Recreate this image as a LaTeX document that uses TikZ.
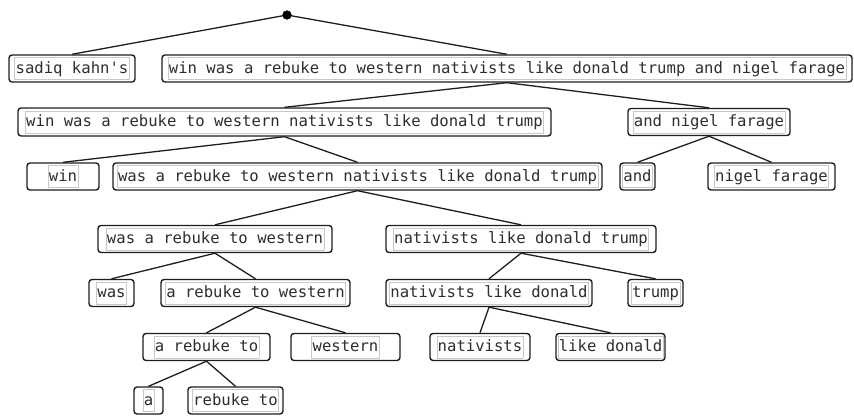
\documentclass[tikz,border=0pt]{standalone}
\usepackage{fontspec}
\usepackage{xcolor}
\newfontfamily\treemono{DejaVu Sans Mono}
\definecolor{boxline}{HTML}{1E1E1E}
\definecolor{textgray}{HTML}{2E2E2E}
\definecolor{framegray}{HTML}{C8C8C8}
\setlength\fboxrule{0.6pt}
\setlength\fboxsep{0.6pt}
% phrase text inside its thin light frame
\newcommand\phr[1]{\fcolorbox{framegray}{white}{\rule[-5.5pt]{0pt}{20.5pt}\color{textgray}#1}}
\tikzset{
  phrase/.style={draw=boxline, line width=1.4pt, rounded corners=3pt, fill=white,
    inner sep=0pt, minimum height=27pt, font=\treemono\fontsize{15.6pt}{18pt}\selectfont},
  branch/.style={draw=boxline, line width=1.3pt},
  rootdot/.style={circle, fill=black, inner sep=0pt, minimum size=9pt}
}
\begin{document}
\begin{tikzpicture}[x=1pt, y=-1pt]
\useasboundingbox (0,0) rectangle (854,415);
% root
\node[rootdot] (r) at (287,15) {};
% level 1
\node[phrase, minimum width=126pt] (s)  at (72,68.5)  {\phr{sadiq kahn's}};
\node[phrase, minimum width=690pt] (w1) at (507,68.5) {\phr{win was a rebuke to western nativists like donald trump and nigel farage}};
% level 2
\node[phrase, minimum width=533pt, minimum height=28pt] (a1) at (284.5,122) {\phr{win was a rebuke to western nativists like donald trump}};
\node[phrase, minimum width=162pt] (a2) at (709,122) {\phr{and nigel farage}};
% level 3
\node[phrase, minimum width=72pt]  (b1) at (63,176.5)    {\phr{win}};
\node[phrase, minimum width=489pt] (b2) at (357.5,176.5) {\phr{was a rebuke to western nativists like donald trump}};
\node[phrase, minimum width=35pt]  (b3) at (637.5,176.5) {\phr{and}};
\node[phrase, minimum width=127pt] (b4) at (771.5,176.5) {\phr{nigel farage}};
% level 4
\node[phrase, minimum width=234pt] (c1) at (215,239) {\phr{was a rebuke to western}};
\node[phrase, minimum width=270pt] (c2) at (521,239) {\phr{nativists like donald trump}};
% level 5
\node[phrase, minimum width=45pt]  (d1) at (111.5,293) {\phr{was}};
\node[phrase, minimum width=189pt] (d2) at (255.5,293) {\phr{a rebuke to western}};
\node[phrase, minimum width=206pt] (d3) at (489,293)   {\phr{nativists like donald}};
\node[phrase, minimum width=55pt]  (d4) at (655.5,293) {\phr{trump}};
% level 6
\node[phrase, minimum width=127pt] (e1) at (206.5,347) {\phr{a rebuke to}};
\node[phrase, minimum width=109pt] (e2) at (345.5,347) {\phr{western}};
\node[phrase, minimum width=100pt] (e3) at (480,347)   {\phr{nativists}};
\node[phrase, minimum width=109pt] (e4) at (610.5,347) {\phr{like donald}};
% level 7
\node[phrase, minimum width=29pt] (f1) at (148.5,400.5) {\phr{a}};
\node[phrase, minimum width=95pt] (f2) at (235.5,400.5) {\phr{rebuke to}};
% branches, parent bottom to child top
\draw[branch] (r.center) -- (s.north);
\draw[branch] (r.center) -- (w1.north);
\draw[branch] (w1.south) -- (a1.north);
\draw[branch] (w1.south) -- (a2.north);
\draw[branch] (a1.south) -- (b1.north);
\draw[branch] (a1.south) -- (b2.north);
\draw[branch] (a2.south) -- (b3.north);
\draw[branch] (a2.south) -- (b4.north);
\draw[branch] (b2.south) -- (c1.north);
\draw[branch] (b2.south) -- (c2.north);
\draw[branch] (c1.south) -- (d1.north);
\draw[branch] (c1.south) -- (d2.north);
\draw[branch] (d2.south) -- (e1.north);
\draw[branch] (d2.south) -- (e2.north);
\draw[branch] (e1.south) -- (f1.north);
\draw[branch] (e1.south) -- (f2.north);
\draw[branch] (c2.south) -- (d3.north);
\draw[branch] (c2.south) -- (d4.north);
\draw[branch] (d3.south) -- (e3.north);
\draw[branch] (d3.south) -- (e4.north);
\node[rootdot] at (r) {};
\end{tikzpicture}
\end{document}
